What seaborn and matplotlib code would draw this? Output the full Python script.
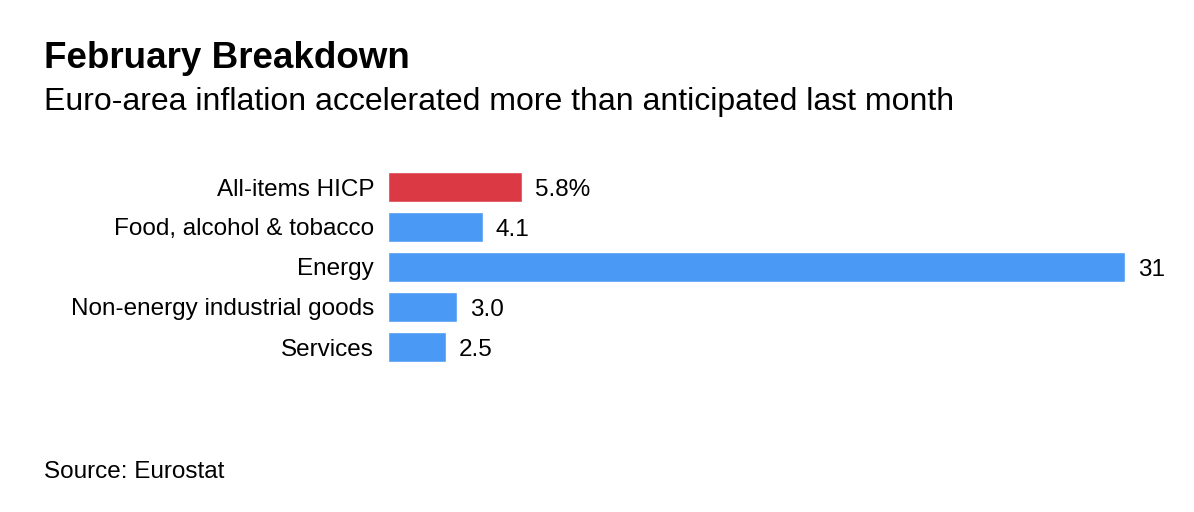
import matplotlib.pyplot as plt
import seaborn as sns
import pandas as pd

categories = ["All-items HICP", "Food, alcohol & tobacco", "Energy",
              "Non-energy industrial goods", "Services"]
values = [5.8, 4.1, 31.9, 3.0, 2.5]
value_labels = ["5.8%", "4.1", "31", "3.0", "2.5"]

RED = "#DB3A45"
BLUE = "#4A9AF5"
colors = [RED, BLUE, BLUE, BLUE, BLUE]

df = pd.DataFrame({"category": categories, "value": values})

sns.set_style("white")
plt.rcParams['font.family'] = ['Liberation Sans', 'DejaVu Sans']
plt.rcParams['text.color'] = 'black'
plt.rcParams['ytick.color'] = 'black'

W, H = 1194, 512
fig = plt.figure(figsize=(W / 100, H / 100), dpi=100)
ax = fig.add_axes([388 / W, 1 - 367 / H, 739 / W, 200 / H])

sns.barplot(data=df, x="value", y="category", hue="category",
            palette=colors, width=0.75, ax=ax, legend=False, saturation=1)

ax.set_xlim(0, 32)
ax.set_ylim(4.5, -0.5)
ax.set_xlabel("")
ax.set_ylabel("")
ax.set_xticks([])
ax.tick_params(axis="y", length=0, pad=10, labelsize=17.5, labelcolor="black")
for s in ax.spines.values():
    s.set_visible(False)

for i, (v, lab) in enumerate(zip(values, value_labels)):
    ax.annotate(lab, (v, i), xytext=(9.5, 0), textcoords="offset points",
                va="center_baseline", ha="left", fontsize=17.5, color="black")

fig.text(44 / W, 1 - 68 / H, "February Breakdown", fontsize=26.5,
         fontweight="bold", ha="left", va="baseline", color="black")
fig.text(44 / W, 1 - 110 / H,
         "Euro-area inflation accelerated more than anticipated last month",
         fontsize=23, ha="left", va="baseline", color="black")
fig.text(44 / W, 1 - 478 / H, "Source: Eurostat", fontsize=17.5,
         ha="left", va="baseline", color="black")

fig.savefig("out.png", dpi=100, facecolor="white")
